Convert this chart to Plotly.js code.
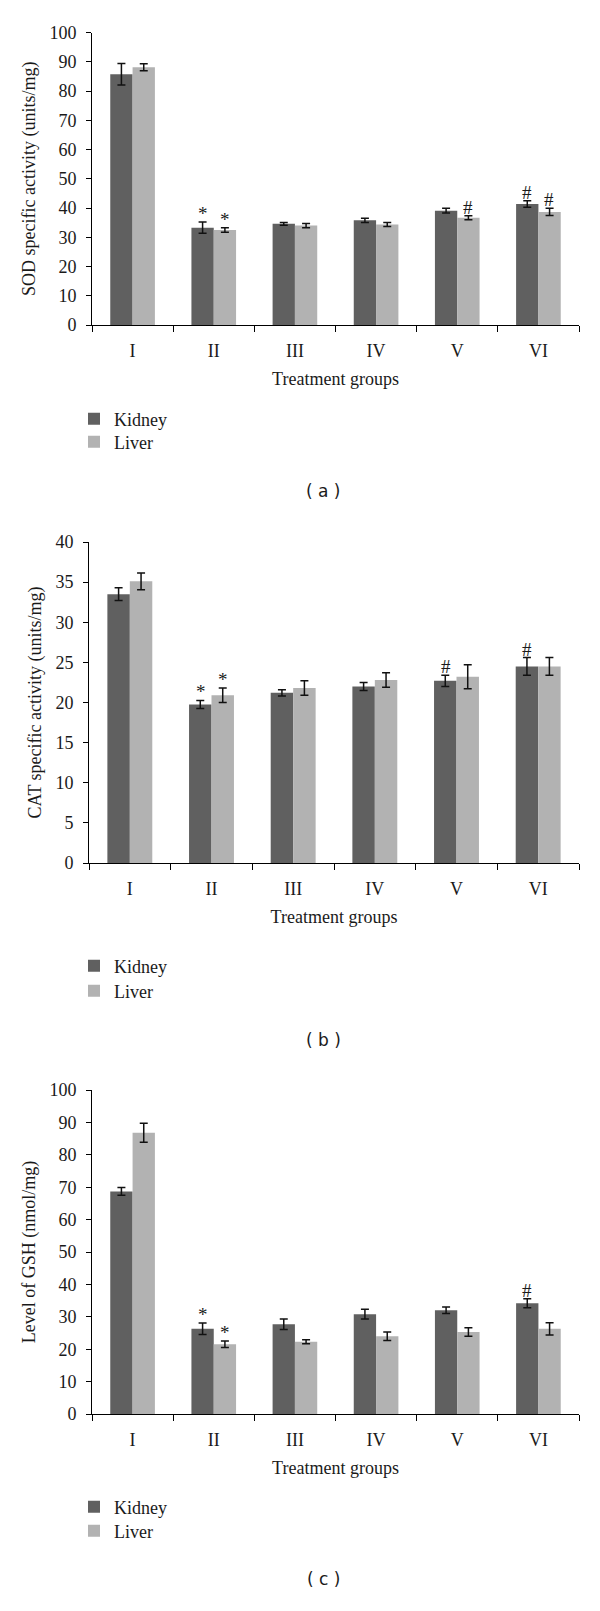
<!DOCTYPE html>
<html>
<head>
<meta charset="utf-8">
<script src="https://cdn.plot.ly/plotly-3.0.1.min.js"></script>
<style>
  body { margin: 0; background: #fff; }
  #chart { width: 600px; height: 1611px; }
</style>
</head>
<body>
<div id="chart"></div>
<script>
// values (mean, error)
const GROUPS = ['I', 'II', 'III', 'IV', 'V', 'VI'];

const SOD_KIDNEY = [85.8, 33.3, 34.6, 35.8, 39.1, 41.4];
const SOD_KIDNEY_ERR = [3.7, 1.9, 0.5, 0.7, 0.8, 1.1];
const SOD_LIVER = [88.2, 32.5, 34.0, 34.4, 36.7, 38.7];
const SOD_LIVER_ERR = [1.2, 0.8, 0.7, 0.7, 0.7, 1.25];
const SOD_KIDNEY_MARK = ['', '*', '', '', '', '#'];
const SOD_LIVER_MARK = ['', '*', '', '', '#', '#'];

const CAT_KIDNEY = [33.5, 19.75, 21.2, 22.0, 22.7, 24.5];
const CAT_KIDNEY_ERR = [0.8, 0.5, 0.4, 0.5, 0.7, 1.1];
const CAT_LIVER = [35.1, 20.9, 21.8, 22.8, 23.2, 24.5];
const CAT_LIVER_ERR = [1.05, 0.9, 0.9, 0.9, 1.5, 1.1];
const CAT_KIDNEY_MARK = ['', '*', '', '', '#', '#'];
const CAT_LIVER_MARK = ['', '*', '', '', '', ''];

const GSH_KIDNEY = [68.7, 26.3, 27.7, 30.8, 32.0, 34.2];
const GSH_KIDNEY_ERR = [1.2, 1.8, 1.6, 1.5, 1.0, 1.4];
const GSH_LIVER = [86.8, 21.5, 22.3, 24.0, 25.3, 26.3];
const GSH_LIVER_ERR = [2.9, 1.0, 0.6, 1.3, 1.3, 1.9];
const GSH_KIDNEY_MARK = ['', '*', '', '', '', '#'];
const GSH_LIVER_MARK = ['', '*', '', '', '', ''];

const KIDNEY_COLOR = '#606060';
const LIVER_COLOR = '#b2b2b2';
const SERIF = 'Liberation Serif';
const INK = '#1a1a1a';
const W = 600, H = 1611;

// pixel -> paper helpers
const px = v => v / W;
const py = v => 1 - v / H;

const PANELS = [
  { key: '', yTitle: 'SOD specific activity (units/mg)', range: [0, 100], dtick: 10,
    kid: SOD_KIDNEY, kidErr: SOD_KIDNEY_ERR, liv: SOD_LIVER, livErr: SOD_LIVER_ERR,
    kidMark: SOD_KIDNEY_MARK, livMark: SOD_LIVER_MARK,
    x0: 92, x1: 579, top: 32.7, bottom: 325, kidY: 419, livY: 442, label: '( a )', labelY: 491 },
  { key: '2', yTitle: 'CAT specific activity (units/mg)', range: [0, 40], dtick: 5,
    kid: CAT_KIDNEY, kidErr: CAT_KIDNEY_ERR, liv: CAT_LIVER, livErr: CAT_LIVER_ERR,
    kidMark: CAT_KIDNEY_MARK, livMark: CAT_LIVER_MARK,
    x0: 89, x1: 579, top: 542, bottom: 863, kidY: 966, livY: 991, label: '( b )', labelY: 1040 },
  { key: '3', yTitle: 'Level of GSH (nmol/mg)', range: [0, 100], dtick: 10,
    kid: GSH_KIDNEY, kidErr: GSH_KIDNEY_ERR, liv: GSH_LIVER, livErr: GSH_LIVER_ERR,
    kidMark: GSH_KIDNEY_MARK, livMark: GSH_LIVER_MARK,
    x0: 92, x1: 579, top: 1090, bottom: 1414, kidY: 1507, livY: 1531, label: '( c )', labelY: 1579 }
];

const traces = [];
const annotations = [];
const layout = {
  width: W, height: H,
  margin: { l: 0, r: 0, t: 0, b: 0 },
  paper_bgcolor: '#fff', plot_bgcolor: '#fff',
  barmode: 'group', bargap: 0.45, bargroupgap: 0,
  showlegend: true,
  font: { family: SERIF, color: INK, size: 18 },
  annotations: annotations
};

function legendBox(yPix) {
  return {
    x: px(74), y: py(yPix), xanchor: 'left', yanchor: 'middle',
    bgcolor: 'rgba(0,0,0,0)', font: { family: SERIF, size: 18, color: INK },
    itemclick: false, itemdoubleclick: false
  };
}

// one legend box per series so each row can be placed where the figure has it
let legendNo = 1;
PANELS.forEach(p => {
  const xa = 'x' + p.key, ya = 'y' + p.key;
  const legK = 'legend' + (legendNo === 1 ? '' : legendNo); legendNo++;
  const legL = 'legend' + legendNo; legendNo++;
  const errStyle = { type: 'data', visible: true, color: '#111', thickness: 1.5, width: 4 };

  traces.push({
    type: 'bar', name: 'Kidney', x: GROUPS, y: p.kid, xaxis: xa, yaxis: ya,
    marker: { color: KIDNEY_COLOR, line: { width: 0 } },
    error_y: { ...errStyle, array: p.kidErr },
    legend: legK, showlegend: true, hoverinfo: 'skip'
  });
  traces.push({
    type: 'bar', name: 'Liver', x: GROUPS, y: p.liv, xaxis: xa, yaxis: ya,
    marker: { color: LIVER_COLOR, line: { width: 0 } },
    error_y: { ...errStyle, array: p.livErr },
    legend: legL, showlegend: true, hoverinfo: 'skip'
  });
  layout[legK] = legendBox(p.kidY);
  layout[legL] = legendBox(p.livY);

  layout['xaxis' + p.key] = {
    domain: [px(p.x0), px(p.x1)], anchor: ya,
    type: 'category', showline: true, linecolor: '#000', linewidth: 1,
    ticks: 'outside', tickson: 'boundaries', ticklen: 6, tickcolor: '#000',
    ticklabelstandoff: 9,
    tickfont: { family: SERIF, size: 18, color: INK },
    showgrid: false, fixedrange: true,
    title: { text: 'Treatment groups', font: { family: SERIF, size: 18, color: INK }, standoff: 12 }
  };
  layout['yaxis' + p.key] = {
    domain: [py(p.bottom), py(p.top)], anchor: xa,
    range: p.range, dtick: p.dtick, tick0: 0,
    showline: true, linecolor: '#000', linewidth: 1,
    ticks: 'outside', ticklen: 5, tickcolor: '#000', ticklabelstandoff: 6,
    tickfont: { family: SERIF, size: 18, color: INK },
    showgrid: false, zeroline: false, fixedrange: true,
    title: { text: p.yTitle, font: { family: SERIF, size: 18, color: INK }, standoff: 9 }
  };

  // significance marks above the error bars
  GROUPS.forEach((g, j) => {
    if (p.kidMark[j]) annotations.push({
      xref: xa, yref: ya, x: g, y: p.kid[j] + p.kidErr[j], xshift: -11,
      text: p.kidMark[j], showarrow: false, yanchor: 'bottom', yshift: -4,
      font: { family: SERIF, size: 19, color: INK }
    });
    if (p.livMark[j]) annotations.push({
      xref: xa, yref: ya, x: g, y: p.liv[j] + p.livErr[j], xshift: 11,
      text: p.livMark[j], showarrow: false, yanchor: 'bottom', yshift: -4,
      font: { family: SERIF, size: 19, color: INK }
    });
  });

  // panel caption
  annotations.push({
    xref: 'paper', yref: 'paper', x: px(323), y: py(p.labelY),
    text: p.label, showarrow: false, xanchor: 'center', yanchor: 'middle',
    font: { family: 'DejaVu Sans', size: 17, color: INK }
  });
});

Plotly.newPlot('chart', traces, layout, { displayModeBar: false, staticPlot: true });
</script>
</body>
</html>
